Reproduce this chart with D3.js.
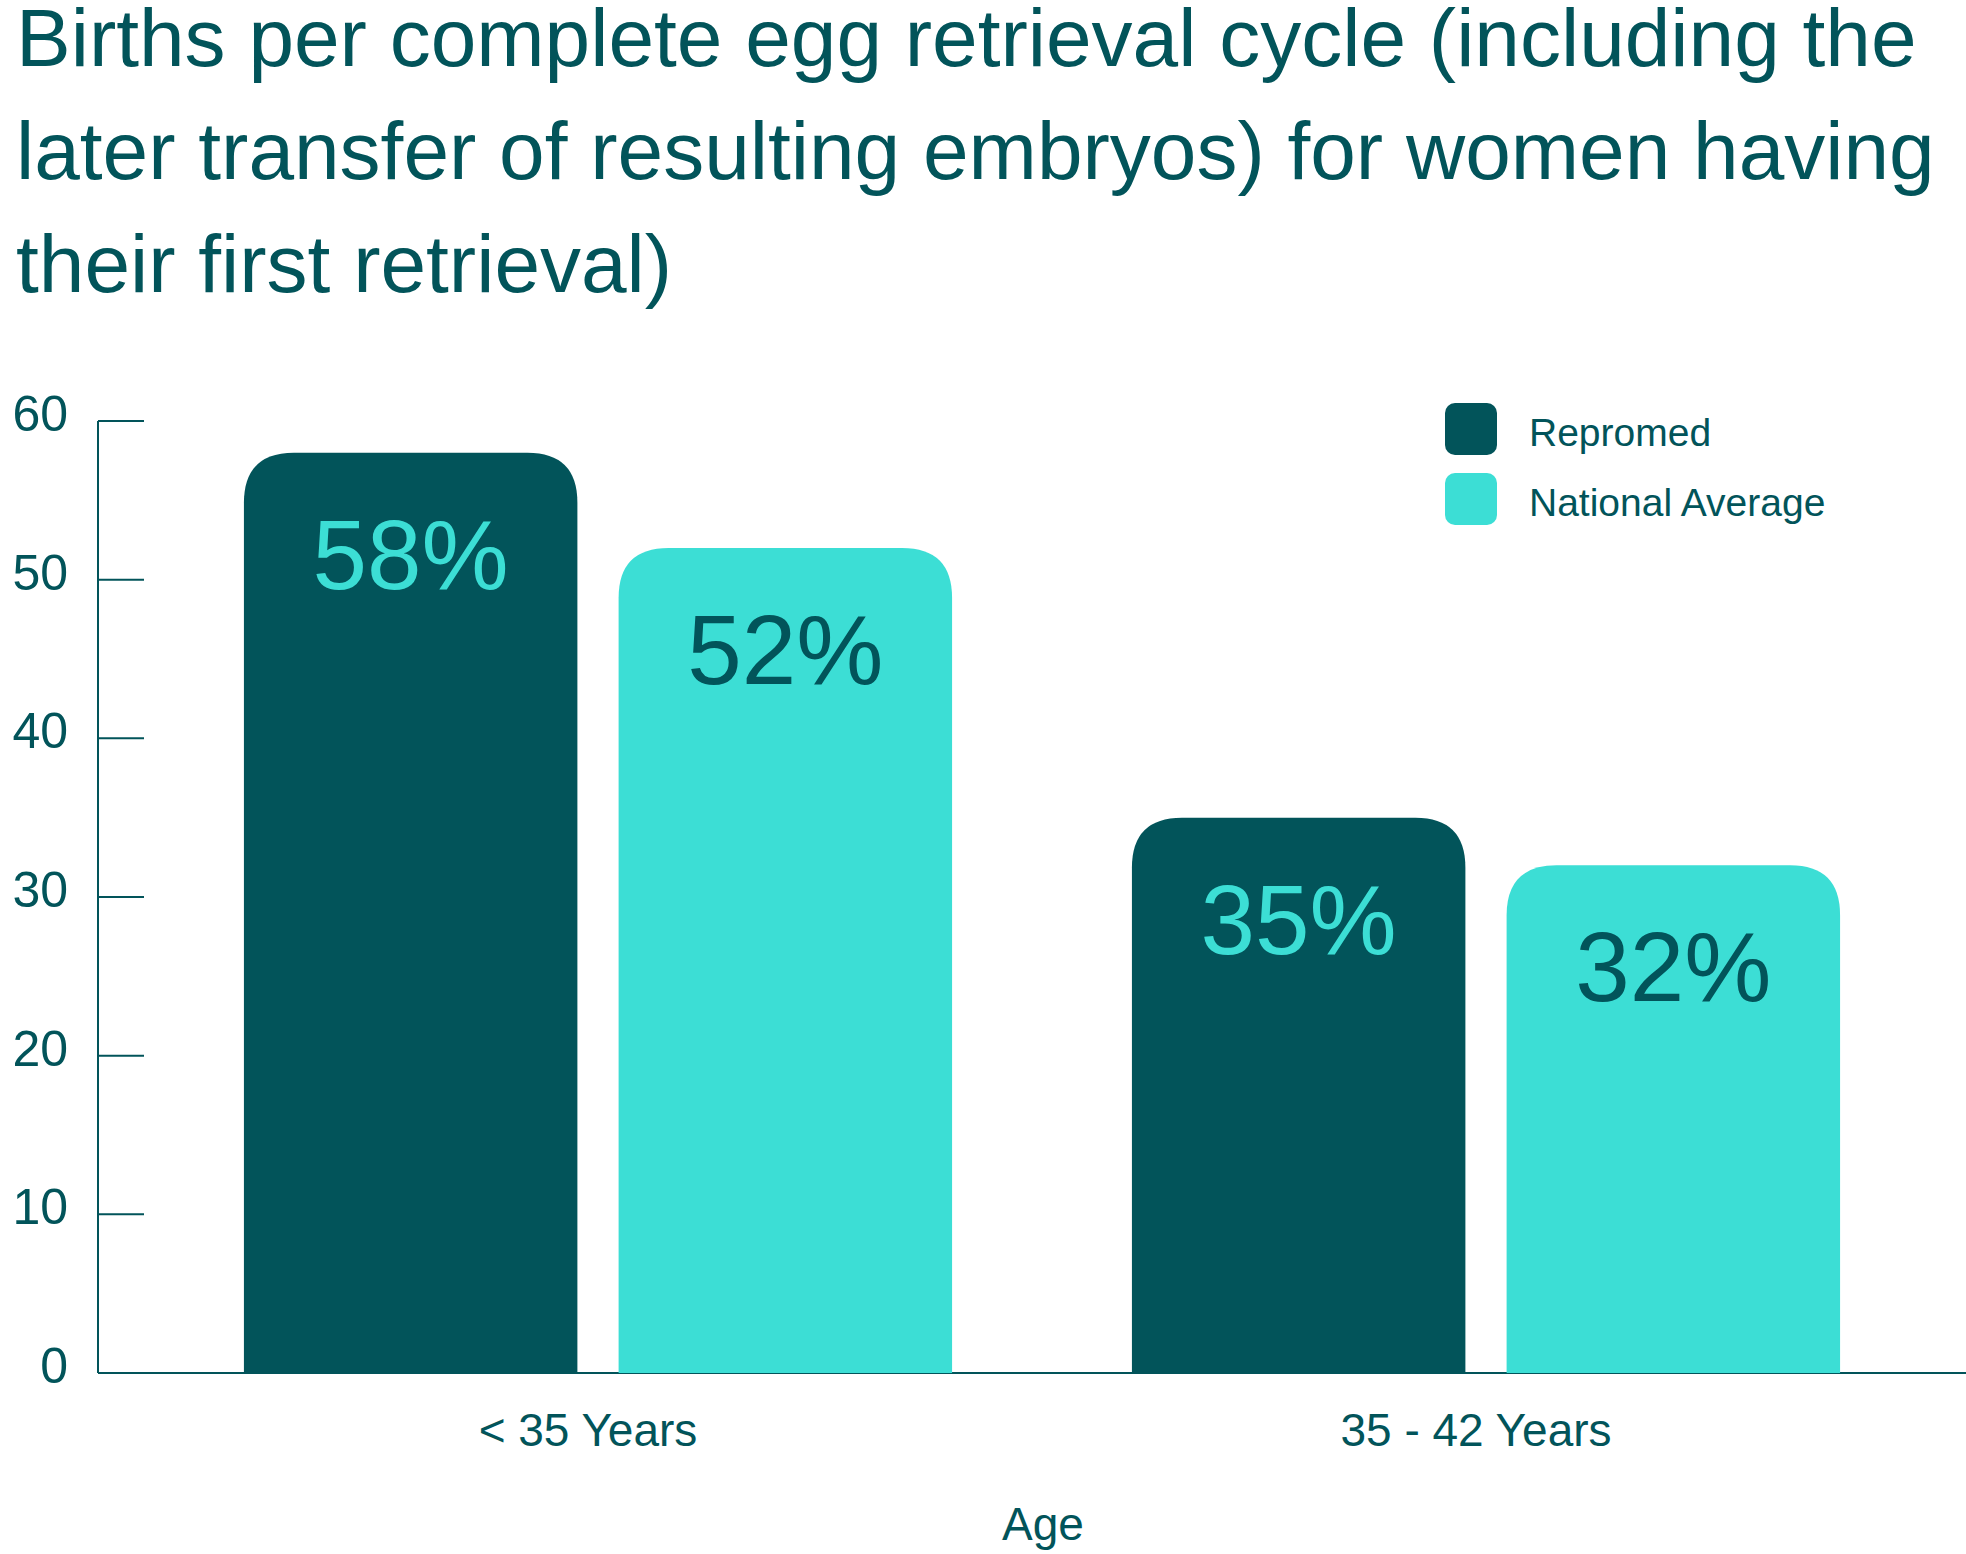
<!DOCTYPE html>
<html><head><meta charset="utf-8">
<script src="https://cdn.jsdelivr.net/npm/d3@7"></script>
<style>body{margin:0;background:#fff}text{font-family:"Liberation Sans",Arial,sans-serif}</style>
</head><body>
<script>
const titleLines = ["Births per complete egg retrieval cycle (including the",
  "later transfer of resulting embryos) for women having", "their first retrieval)"];
const ageGroups = ["< 35 Years", "35 - 42 Years"];
const seriesNames = ["Repromed", "National Average"];
const repromed = [58, 35];
const national = [52, 32];
const yTicks = [0, 10, 20, 30, 40, 50, 60];

const dark = "#02545a", teal = "#3cded5";
const colors = [dark, teal];
const W = 1966, H = 1554;
const svg = d3.select("body").append("svg").attr("width", W).attr("height", H);

svg.selectAll(".title").data(titleLines).enter().append("text")
  .attr("x", 16).attr("y", (d, i) => 66 + i * 113)
  .attr("fill", dark).attr("font-size", 82).text(d => d);

const y = d3.scaleLinear().domain([0, 60]).range([1373, 421]);
const x0 = d3.scaleBand().domain(ageGroups).range([154, 1930]);
const x1 = d3.scaleBand().domain(seriesNames).range([0, x0.bandwidth()]).paddingInner(0.11).paddingOuter(0.24);

// axis
svg.append("line").attr("x1", 98).attr("x2", 98).attr("y1", y(60)).attr("y2", y(0)).attr("stroke", dark).attr("stroke-width", 2);
svg.append("line").attr("x1", 98).attr("x2", W).attr("y1", y(0)).attr("y2", y(0)).attr("stroke", dark).attr("stroke-width", 2);
svg.selectAll(".tick").data(yTicks.filter(d => d > 0)).enter().append("line")
  .attr("x1", 98).attr("x2", 144).attr("y1", d => y(d)).attr("y2", d => y(d)).attr("stroke", dark).attr("stroke-width", 2);
svg.selectAll(".ytl").data(yTicks).enter().append("text")
  .attr("x", 68).attr("y", d => y(d) + 10).attr("text-anchor", "end")
  .attr("fill", dark).attr("font-size", 50).text(d => d);

const data = ageGroups.flatMap((g, i) => [
  {g, s: seriesNames[0], v: repromed[i], c: 0},
  {g, s: seriesNames[1], v: national[i], c: 1}]);

const r = 50;
const barPath = (x, top, w, bottom) =>
  `M${x},${bottom}V${top + r}Q${x},${top} ${x + r},${top}H${x + w - r}Q${x + w},${top} ${x + w},${top + r}V${bottom}Z`;

svg.selectAll(".bar").data(data).enter().append("path")
  .attr("fill", d => colors[d.c])
  .attr("d", d => barPath(x0(d.g) + x1(d.s), y(d.v), x1.bandwidth(), y(0)));
svg.selectAll(".val").data(data).enter().append("text")
  .attr("x", d => x0(d.g) + x1(d.s) + x1.bandwidth() / 2)
  .attr("y", d => y(d.v) + 136).attr("text-anchor", "middle")
  .attr("fill", d => colors[1 - d.c]).attr("font-size", 98).text(d => d.v + "%");

svg.selectAll(".xl").data(ageGroups).enter().append("text")
  .attr("x", d => x0(d) + x0.bandwidth() / 2 - 10).attr("y", 1446).attr("text-anchor", "middle")
  .attr("fill", dark).attr("font-size", 46).text(d => d);
svg.append("text").attr("x", 1043).attr("y", 1540).attr("text-anchor", "middle")
  .attr("fill", dark).attr("font-size", 46).text("Age");

const leg = svg.selectAll(".leg").data(seriesNames).enter().append("g")
  .attr("transform", (d, i) => `translate(1445,${403 + i * 70})`);
leg.append("rect").attr("width", 52).attr("height", 52).attr("rx", 10).attr("fill", (d, i) => colors[i]);
leg.append("text").attr("x", 84).attr("y", 43).attr("fill", dark).attr("font-size", 39).text(d => d);
</script>
</body></html>
